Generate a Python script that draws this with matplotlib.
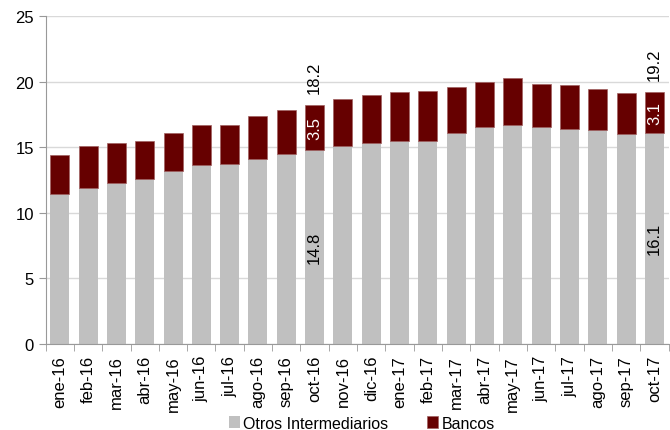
import numpy as np
import matplotlib.pyplot as plt

plt.rcParams['font.family'] = ['Liberation Sans', 'DejaVu Sans']

meses = ['ene-16', 'feb-16', 'mar-16', 'abr-16', 'may-16', 'jun-16', 'jul-16',
         'ago-16', 'sep-16', 'oct-16', 'nov-16', 'dic-16', 'ene-17', 'feb-17',
         'mar-17', 'abr-17', 'may-17', 'jun-17', 'jul-17', 'ago-17', 'sep-17',
         'oct-17']
otros = [11.4, 11.9, 12.3, 12.55, 13.15, 13.6, 13.7, 14.1, 14.5, 14.76, 15.1,
         15.35, 15.5, 15.5, 16.1, 16.5, 16.7, 16.5, 16.4, 16.3, 16.0, 16.1]
total = [14.4, 15.1, 15.35, 15.5, 16.1, 16.7, 16.7, 17.35, 17.8, 18.24, 18.7,
         19.0, 19.2, 19.3, 19.55, 20.0, 20.25, 19.8, 19.75, 19.45, 19.1, 19.2]
bancos = [t - o for t, o in zip(total, otros)]

gris = '#C0C0C0'
rojo = '#660000'

fig = plt.figure(figsize=(6.7, 4.31), dpi=100)
ax = fig.add_axes([0.068, 0.2, 0.93, 0.7606])

x = np.arange(len(meses))
ax.bar(x, otros, width=0.67, color=gris, label='Otros Intermediarios', zorder=2)
ax.bar(x, bancos, width=0.67, bottom=otros, color=rojo, label='Bancos', zorder=2,
       edgecolor='#a06060', linewidth=0.5)

# etiquetas en oct-16 y oct-17
for i in [9, 21]:
    ax.text(x[i], otros[i] / 2, f'{otros[i]:.1f}', rotation=90, ha='center',
            va='center', fontsize=12, color='black', zorder=3)
    ax.text(x[i], otros[i] + bancos[i] / 2, f'{bancos[i]:.1f}', rotation=90,
            ha='center', va='center', fontsize=12, color='white', zorder=3)
    ax.text(x[i], total[i] + 0.9, f'{total[i]:.1f}', rotation=90, ha='center',
            va='bottom', fontsize=12, color='black', zorder=3)

ax.set_ylim(0, 25)
ax.set_xlim(-0.5, len(meses) - 0.5)
ax.set_yticks(range(0, 26, 5))
ax.set_xticks(x)
ax.set_xticklabels(meses, rotation=90, fontsize=12)
ax.set_xticks(np.arange(-0.5, len(meses), 1), minor=True)
ax.tick_params(axis='x', which='major', length=0, pad=8)
ax.tick_params(axis='x', which='minor', length=5, color='#999999')
ax.tick_params(axis='y', labelsize=12, length=5, color='#999999')
ax.grid(axis='y', color='#D9D9D9', linewidth=1, zorder=0)

for s in ['top', 'right']:
    ax.spines[s].set_visible(False)
ax.spines['left'].set_color('#999999')
ax.spines['bottom'].set_color('#999999')

h, l = ax.get_legend_handles_labels()
fig.legend(h, l, loc='center', bbox_to_anchor=(0.54, 0.016), ncol=2, frameon=False,
           fontsize=11.5, handlelength=0.7, handleheight=0.7, handletextpad=0.2,
           columnspacing=2.4, borderpad=0)

fig.savefig('out.png', dpi=100)
